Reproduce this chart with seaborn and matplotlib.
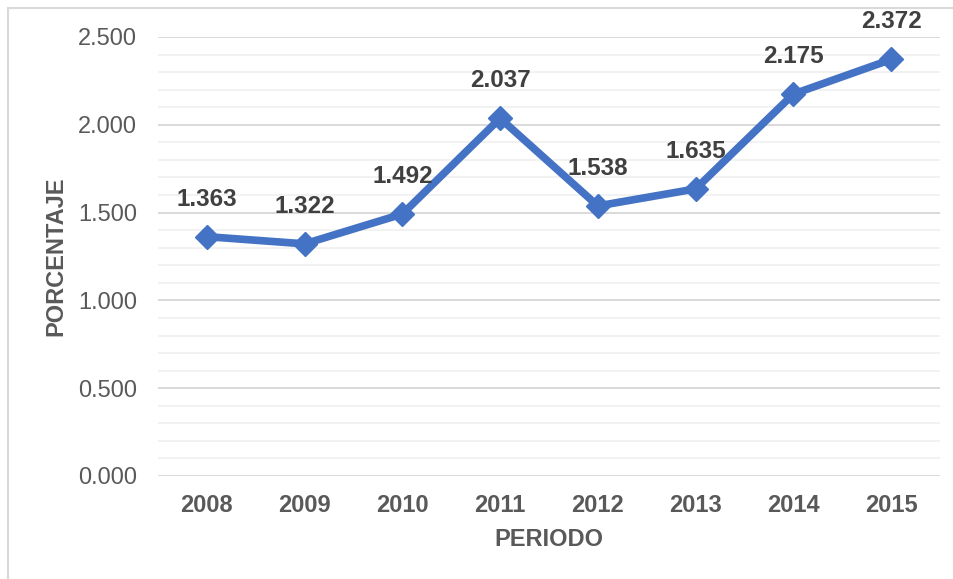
import matplotlib
matplotlib.use("Agg")
import matplotlib.pyplot as plt
import seaborn as sns
import pandas as pd
import numpy as np
from matplotlib.lines import Line2D
from matplotlib.ticker import MultipleLocator

years = ["2008", "2009", "2010", "2011", "2012", "2013", "2014", "2015"]
values = [1.363, 1.322, 1.492, 2.037, 1.538, 1.635, 2.175, 2.372]
value_labels = ["1.363", "1.322", "1.492", "2.037", "1.538", "1.635", "2.175", "2.372"]
y_ticks = [0.0, 0.5, 1.0, 1.5, 2.0, 2.5]
y_tick_labels = ["0.000", "0.500", "1.000", "1.500", "2.000", "2.500"]

sns.set_theme(style="white")
plt.rcParams["font.family"] = ["Liberation Sans", "DejaVu Sans"]

df = pd.DataFrame({"PERIODO": years, "PORCENTAJE": values})

fig = plt.figure(figsize=(9.54, 5.79), dpi=100)
ax = fig.add_axes([158/954, 1-476/579, (940-158)/954, (476-37)/579])

LINE = "#4472C4"
TXT = "#595959"

ax.set_ylim(0, 2.5)
ax.set_xlim(-0.5, 7.5)
ax.yaxis.set_minor_locator(MultipleLocator(0.1))
ax.set_yticks(y_ticks)
ax.set_yticklabels(y_tick_labels)
ax.grid(which="major", axis="y", color="#D9D9D9", lw=1.4, zorder=0)
ax.grid(which="minor", axis="y", color="#F2F2F2", lw=1.4, zorder=0)
ax.grid(which="major", axis="x", visible=False)
ax.set_axisbelow(True)

sns.lineplot(data=df, x="PERIODO", y="PORCENTAJE", ax=ax, color=LINE,
             lw=5.5, marker="D", markersize=12, markeredgecolor=LINE,
             markeredgewidth=1, zorder=3, sort=False)

ax.set_xlim(-0.5, 7.5)
ax.set_ylim(0, 2.5)

for i, (v, lab) in enumerate(zip(values, value_labels)):
    ax.annotate(lab, xy=(i, v), xytext=(0, 27), textcoords="offset points",
                ha="center", va="center", fontsize=17.5, fontweight="bold",
                color="#404040", annotation_clip=False)

for s in ax.spines.values():
    s.set_visible(False)
ax.tick_params(axis="both", which="both", length=0)
ax.tick_params(axis="y", labelsize=17, labelcolor=TXT, pad=15)
ax.tick_params(axis="x", labelsize=17, labelcolor=TXT, pad=13)
for t in ax.get_xticklabels():
    t.set_fontweight("bold")

ax.set_xlabel("PERIODO", fontsize=17, fontweight="bold", color=TXT)
ax.set_ylabel("PORCENTAJE", fontsize=17, fontweight="bold", color=TXT)
ax.xaxis.label.set_va("center")
ax.yaxis.label.set_va("center")
ax.xaxis.set_label_coords(0.5, (476-540)/439)
ax.yaxis.set_label_coords((56-158)/782, 0.5)

# outer chart border (top and left visible)
fig.add_artist(Line2D([8/954, 1.0], [1-8/579, 1-8/579], transform=fig.transFigure,
                      color="#D9D9D9", lw=1.5))
fig.add_artist(Line2D([8/954, 8/954], [0.0, 1-8/579], transform=fig.transFigure,
                      color="#D9D9D9", lw=1.5))

fig.savefig("out.png", dpi=100)
